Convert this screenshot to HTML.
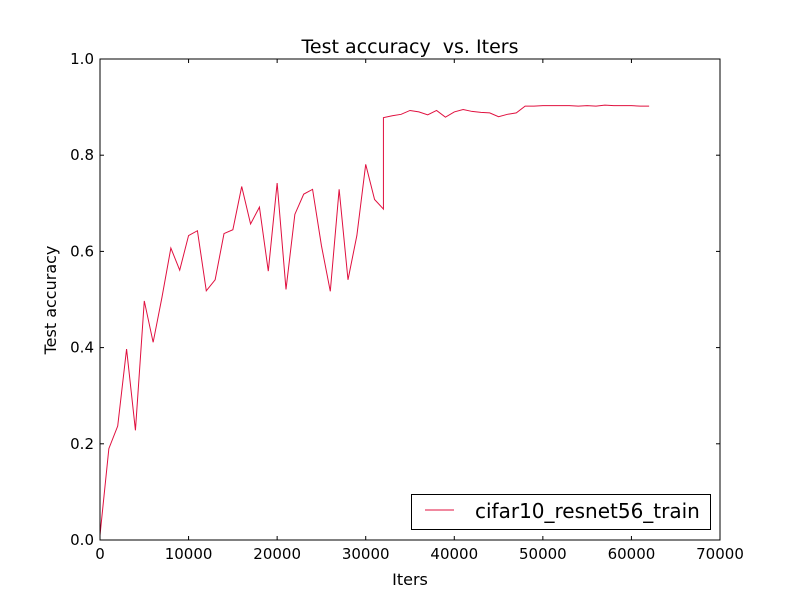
<!DOCTYPE html>
<html><head><meta charset="utf-8"><style>
body{margin:0;background:#fff}
svg{display:block;font-family:"DejaVu Sans","Liberation Sans",sans-serif}
</style></head><body>
<svg id="chart" width="800" height="600" viewBox="0 0 800 600" xmlns="http://www.w3.org/2000/svg">
<rect width="800" height="600" fill="#fff"/>
<g id="plot"></g>
</svg>
<script>
const iters=[0,1000,2000,3000,4000,5000,6000,7000,8000,9000,10000,11000,12000,13000,14000,15000,16000,17000,18000,19000,20000,21000,22000,23000,24000,25000,26000,27000,28000,29000,30000,31000,32000,32000,33000,34000,35000,36000,37000,38000,39000,40000,41000,42000,43000,44000,45000,46000,47000,48000,49000,50000,51000,52000,53000,54000,55000,56000,57000,58000,59000,60000,61000,62000];
const accuracy=[0.01,0.19,0.237,0.397,0.228,0.497,0.411,0.505,0.607,0.561,0.633,0.643,0.518,0.541,0.637,0.645,0.735,0.657,0.692,0.559,0.742,0.521,0.677,0.719,0.729,0.612,0.517,0.729,0.541,0.633,0.781,0.708,0.688,0.878,0.882,0.885,0.893,0.890,0.884,0.893,0.879,0.890,0.895,0.891,0.889,0.888,0.880,0.885,0.888,0.902,0.902,0.903,0.903,0.903,0.903,0.902,0.903,0.902,0.904,0.903,0.903,0.903,0.902,0.902];
const xTicks=[0,10000,20000,30000,40000,50000,60000,70000];
const yTicks=[0.0,0.2,0.4,0.6,0.8,1.0];
const L=100,R=720,T=59,B=540;
const sx=v=>L+(v-0)/70000*(R-L);
const sy=v=>B-(v-0)/1*(B-T);
const NS="http://www.w3.org/2000/svg";
const g=document.getElementById('plot');
function mk(tag,attrs,parent){const e=document.createElementNS(NS,tag);for(const k in attrs)e.setAttribute(k,attrs[k]);(parent||g).appendChild(e);return e;}
let d=iters.map((x,i)=>(i?'L':'M')+sx(x).toFixed(2)+','+sy(accuracy[i]).toFixed(2)).join(' ');
const line=mk('path',{d:d,fill:'none',stroke:'#e0103f','stroke-width':1});


const frame=mk('rect',{x:L,y:T,width:R-L,height:B-T,fill:'none',stroke:'#000','stroke-width':1});


xTicks.forEach(t=>{const x=sx(t);
 mk('line',{x1:x,y1:B,x2:x,y2:B-4,stroke:'#000'});mk('line',{x1:x,y1:T,x2:x,y2:T+4,stroke:'#000'});
 const tx=mk('text',{x:x,y:B+19,'text-anchor':'middle','font-size':'15px',fill:'#000'});tx.textContent=t;
 
 });
yTicks.forEach(t=>{const y=sy(t);
 mk('line',{x1:L,y1:y,x2:L+4,y2:y,stroke:'#000'});mk('line',{x1:R,y1:y,x2:R-4,y2:y,stroke:'#000'});
 const tx=mk('text',{x:L-6,y:y+5,'text-anchor':'end','font-size':'15px',fill:'#000'});tx.textContent=t.toFixed(1);
 
 });
const title=mk('text',{x:410,y:53,'text-anchor':'middle','font-size':'19px',fill:'#000',style:'white-space:pre'});title.textContent='Test accuracy  vs. Iters';


const xl=mk('text',{x:410,y:585,'text-anchor':'middle','font-size':'16px',fill:'#000'});xl.textContent='Iters';


const yl=mk('text',{x:0,y:0,'text-anchor':'middle','font-size':'16px',fill:'#000',transform:'translate(56,300) rotate(-90)'});yl.textContent='Test accuracy';


const lg=mk('g',{});


mk('rect',{x:411.5,y:494.5,width:299,height:35,fill:'#fff',stroke:'#000'},lg);
mk('line',{x1:425,y1:510,x2:454,y2:510,stroke:'#e0103f'},lg);
const lt=mk('text',{x:475,y:518,'font-size':'20px',fill:'#000'},lg);lt.textContent='cifar10_resnet56_train';


</script>
</body></html>
